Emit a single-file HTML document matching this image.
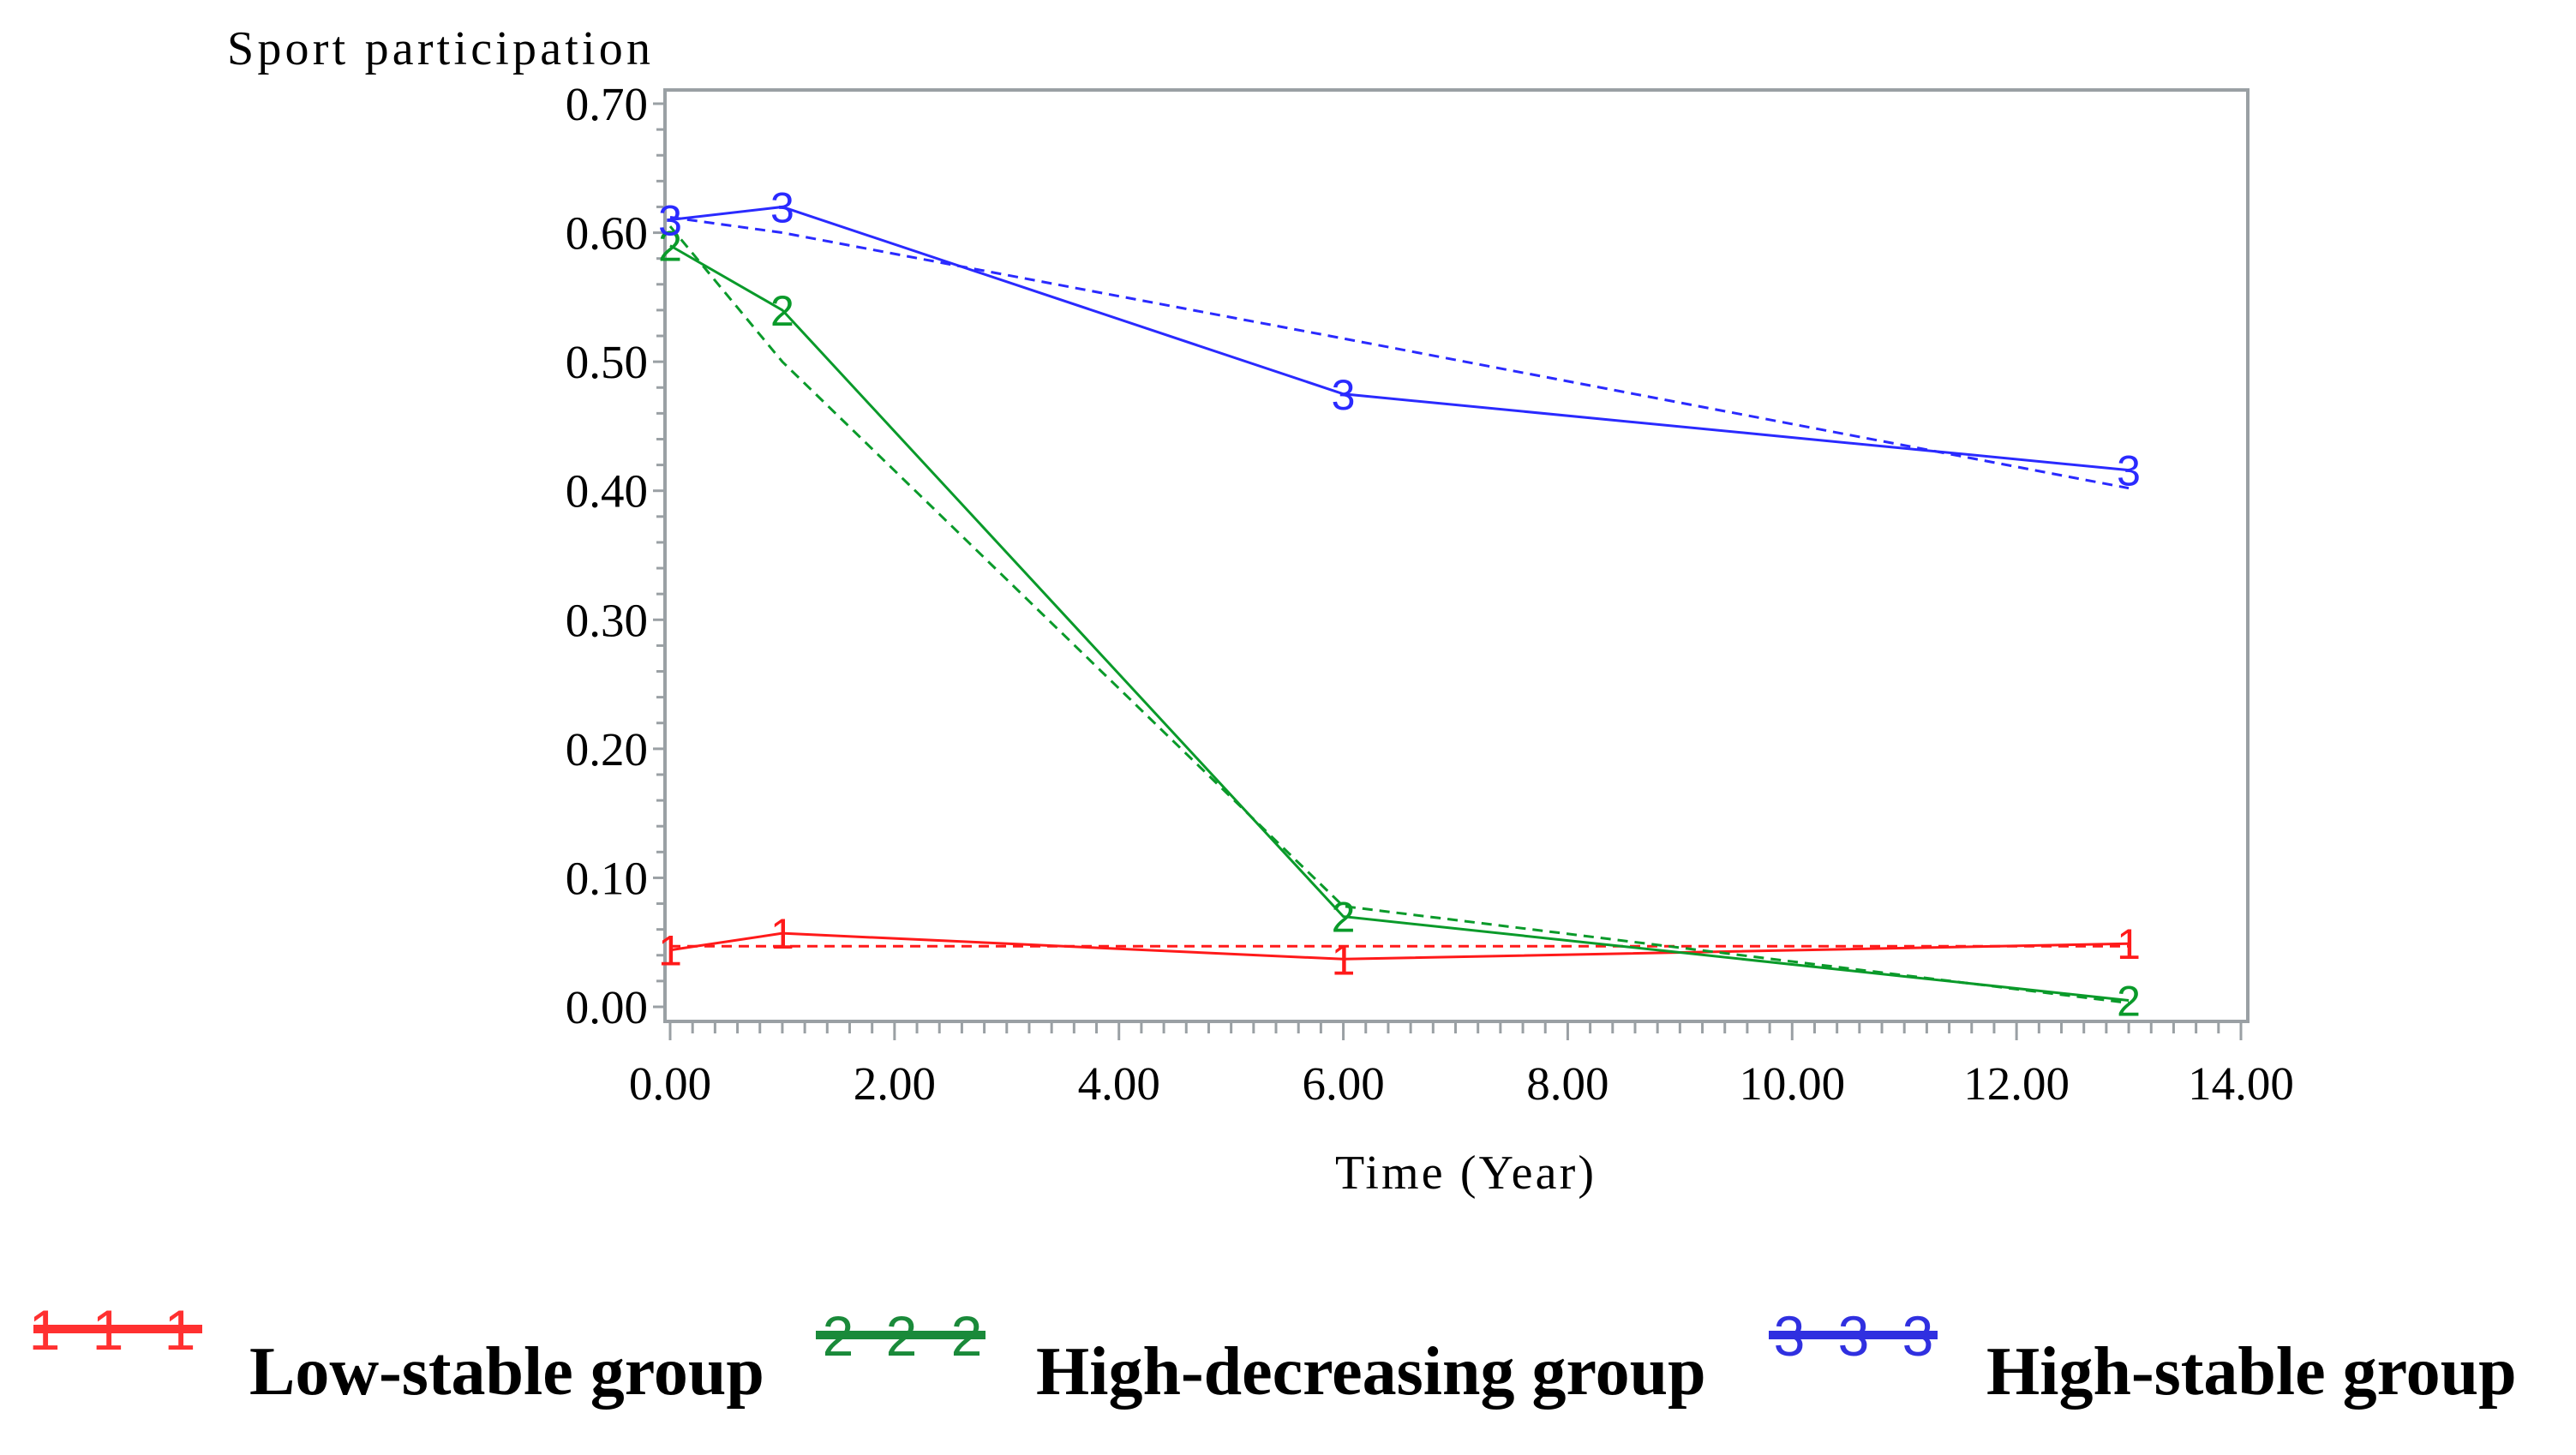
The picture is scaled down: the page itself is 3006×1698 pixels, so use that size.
<!DOCTYPE html>
<html><head><meta charset="utf-8"><style>
body{margin:0;background:#fff;}
svg{display:block;}
text{font-family:"Liberation Serif",serif;}
</style></head><body>
<svg id="c" width="3006" height="1698" xmlns="http://www.w3.org/2000/svg">
<text x="265" y="75" font-size="56" textLength="494" lengthAdjust="spacing">Sport participation</text>
<rect x="776" y="105" width="1847" height="1087" fill="none" stroke="#9aa0a4" stroke-width="4"/>
<text x="1558" y="1387" font-size="56" textLength="302" lengthAdjust="spacing">Time (Year)</text>
<g id="legend">
<text x="291" y="1627" font-size="80" font-weight="bold">Low-stable group</text>
<text x="1209" y="1627" font-size="80" font-weight="bold">High-decreasing group</text>
<text x="2318" y="1627" font-size="80" font-weight="bold">High-stable group</text>
</g>
</svg>
<script>
const xTicks=[0,2,4,6,8,10,12,14];
const yTicks=[0,0.1,0.2,0.3,0.4,0.5,0.6,0.7];
const times=[0,1,6,13];
const lowObs=[0.044,0.057,0.037,0.049];
const lowFit=[0.047,0.047,0.047,0.047];
const decObs=[0.590,0.540,0.070,0.005];
const decFit=[0.605,0.500,0.078,0.003];
const stabObs=[0.610,0.620,0.475,0.416];
const stabFit=[0.612,0.600,0.518,0.402];
const NS='http://www.w3.org/2000/svg';
const svg=document.getElementById('c');
const X=v=>782+v*(2615-782)/14;
const Y=v=>1175-v*(1175-121)/0.7;
function mk(t,a,p){const e=document.createElementNS(NS,t);for(const k in a)e.setAttribute(k,a[k]);(p||svg).appendChild(e);return e;}
for(let i=0;i<=35;i++){const v=i*0.02;const major=Math.abs(v*10-Math.round(v*10))<1e-6;
 const t=mk('line',{x1:major?762:766,x2:776,y1:Y(v),y2:Y(v),stroke:'#9aa0a4','stroke-width':3});
 
 }
yTicks.forEach(v=>{const t=mk('text',{x:756,y:Y(v)+19,'font-size':55,'text-anchor':'end'});t.textContent=v.toFixed(2);
 
 });
for(let i=0;i<=70;i++){const v=i*0.2;const major=i%10==0;
 const t=mk('line',{x1:X(v),x2:X(v),y1:1194,y2:major?1214:1206,stroke:'#9aa0a4','stroke-width':3});
 
 }
xTicks.forEach(v=>{const t=mk('text',{x:X(v),y:1283,'font-size':55,'text-anchor':'middle'});t.textContent=v.toFixed(2);
 
 });
function series(obs,fit,col,lab,name){
 const g=mk('g',{});
 
 
 const f=mk('polyline',{points:times.map((t,i)=>X(t)+','+Y(fit[i])).join(' '),fill:'none',stroke:col,'stroke-width':3,'stroke-dasharray':'12,8'},g);
 
 
 const o=mk('polyline',{points:times.map((t,i)=>X(t)+','+Y(obs[i])).join(' '),fill:'none',stroke:col,'stroke-width':3},g);
 
 
 times.forEach((t,i)=>{
  const m=mk('text',{x:X(t),y:Y(obs[i])+18,'font-size':50,fill:col,'text-anchor':'middle',style:'font-family:"Liberation Sans",sans-serif'},g);
  m.textContent=lab;
  
  });
}
series(lowObs,lowFit,'#ff1a1a','1','low-stable');
series(decObs,decFit,'#0a9a2a','2','high-decreasing');
series(stabObs,stabFit,'#2a2aff','3','high-stable');
const lg=document.getElementById('legend');
function sym(x0,x1,y,col,lab,xs,name){
 const l=mk('line',{x1:x0,x2:x1,y1:y,y2:y,stroke:col,'stroke-width':10},lg);
 
 
 xs.forEach(x=>{const t=mk('text',{x:x,y:y+24,'font-size':66,fill:col,'text-anchor':'middle',style:'font-family:"Liberation Sans",sans-serif'},lg);t.textContent=lab;
  
  });
}
sym(39,236,1551,'#ff3030','1',[52,126,210],'low-stable');
sym(952,1150,1558,'#1a8a3a','2',[978,1052,1128],'high-decreasing');
sym(2064,2261,1558,'#3030e0','3',[2088,2163,2238],'high-stable');
</script>
</body></html>
